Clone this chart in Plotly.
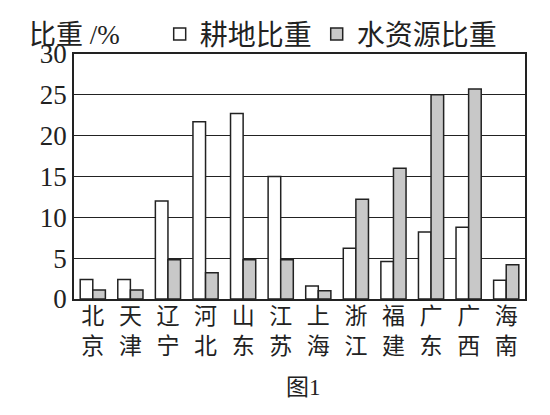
import plotly.graph_objects as go

# Data
provinces = ["北<br>京", "天<br>津", "辽<br>宁", "河<br>北", "山<br>东", "江<br>苏",
             "上<br>海", "浙<br>江", "福<br>建", "广<br>东", "广<br>西", "海<br>南"]
farmland = [2.4, 2.4, 12.0, 21.7, 22.7, 15.0, 1.6, 6.2, 4.6, 8.2, 8.8, 2.3]
water = [1.1, 1.1, 4.8, 3.2, 4.8, 4.8, 1.0, 12.2, 16.0, 25.0, 25.7, 4.2]
y_ticks = [0, 5, 10, 15, 20, 25, 30]

serif = "Liberation Serif"
cjk = "Noto Sans CJK SC"
ink = "#222"

fig = go.Figure()
fig.add_trace(go.Bar(
    x=provinces, y=farmland, name="耕地比重",
    marker=dict(color="white", line=dict(color=ink, width=1.5)),
))
fig.add_trace(go.Bar(
    x=provinces, y=water, name="水资源比重",
    marker=dict(color="#c8c8c8", line=dict(color=ink, width=1.5)),
))

# page body adds an 8px offset, margins compensate for it
fig.update_layout(
    width=550, height=415,
    margin=dict(l=66, r=33, t=46, b=124, autoexpand=False),
    paper_bgcolor="white", plot_bgcolor="white",
    barmode="group", bargap=0.33, bargroupgap=0,
    showlegend=True,
    legend=dict(orientation="h", x=0.19, y=1.08, xanchor="left", yanchor="middle",
                font=dict(family=cjk, size=28, color=ink),
                itemwidth=30, traceorder="normal", bgcolor="rgba(0,0,0,0)"),
    annotations=[
        dict(text="比重<span style='font-family:Liberation Serif'> /%</span>",
             xref="paper", yref="paper", x=-0.104, y=1.088,
             xanchor="left", yanchor="middle", showarrow=False,
             font=dict(family=cjk, size=27, color=ink)),
        dict(text="图<span style='font-family:Liberation Serif'>1</span>",
             xref="paper", yref="paper", x=0.508, y=-0.35,
             yanchor="middle", showarrow=False, font=dict(family=cjk, size=23, color=ink)),
    ],
)

fig.update_yaxes(
    range=[0, 30], tickvals=y_ticks, showgrid=True, gridcolor=ink, gridwidth=1.3,
    showline=True, linecolor=ink, linewidth=1.5, mirror=True, ticks="", ticklen=0,
    tickfont=dict(family=serif, size=27, color=ink), zeroline=False, automargin=False,
)
fig.update_xaxes(
    showline=True, linecolor=ink, linewidth=1.5, mirror=True, ticks="", ticklen=0,
    tickfont=dict(family=cjk, size=23, color=ink), tickangle=0, automargin=False,
    ticklabelstandoff=-4,
)

fig.write_html("out.html")
